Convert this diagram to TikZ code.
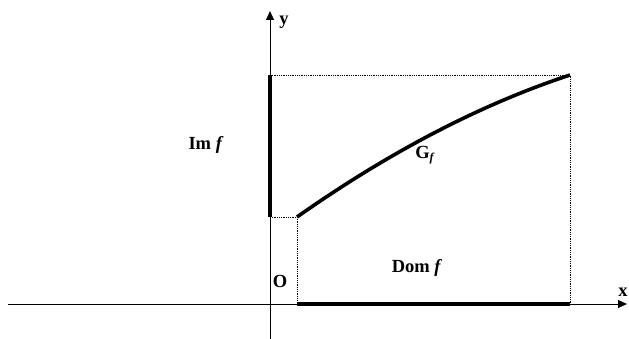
\documentclass[tikz,border=0pt]{standalone}
\usepackage{fontspec}
\setmainfont{Liberation Serif}
\usetikzlibrary{arrows.meta}
\begin{document}
\begin{tikzpicture}[x=1pt,y=-1pt,
  axis/.style={line width=1pt,-{Triangle[length=9pt,width=8pt]}},
  thickline/.style={line width=3.6pt},
  guide/.style={line width=0.8pt,densely dotted},
  lbl/.style={font=\fontsize{18.5}{22}\selectfont\bfseries,inner sep=0pt}]
\useasboundingbox (0,0) rectangle (629,339);
\coordinate (xs) at (8,304);
\coordinate (xe) at (627,304);
\coordinate (ys) at (270,340);
\coordinate (ye) at (270,11);
\draw[axis] (xs) -- (xe);
\draw[axis] (ys) -- (ye);
\coordinate (imt) at (270,75);
\coordinate (imb) at (270,217);
\coordinate (c0) at (297,217);
\coordinate (c1) at (570,75);
\coordinate (d0) at (297,304);
\coordinate (d1) at (570,304);
\draw[guide] (imt) -- (c1) -- (d1);
\draw[guide] (imb) -- (c0) -- (d0);
\draw[thickline] (imt) -- (imb);
\draw[thickline] (d0) -- (d1);
\draw[thickline] (c0) .. controls (388,153) and (479,105) .. (c1);
\node[lbl] (ylab) at (284,22) {y};
\node[lbl] (xlab) at (623,292) {x};
\node[lbl] (olab) at (280,281) {O};
\node[lbl] (im) at (206,145) {Im \textit{f}};
\node[lbl] (gf) at (425,155) {G\raisebox{-0.3ex}{\fontsize{12}{14}\selectfont\textit{f}}};
\node[lbl] (dom) at (417,268) {Dom \textit{f}};
\end{tikzpicture}
\end{document}
